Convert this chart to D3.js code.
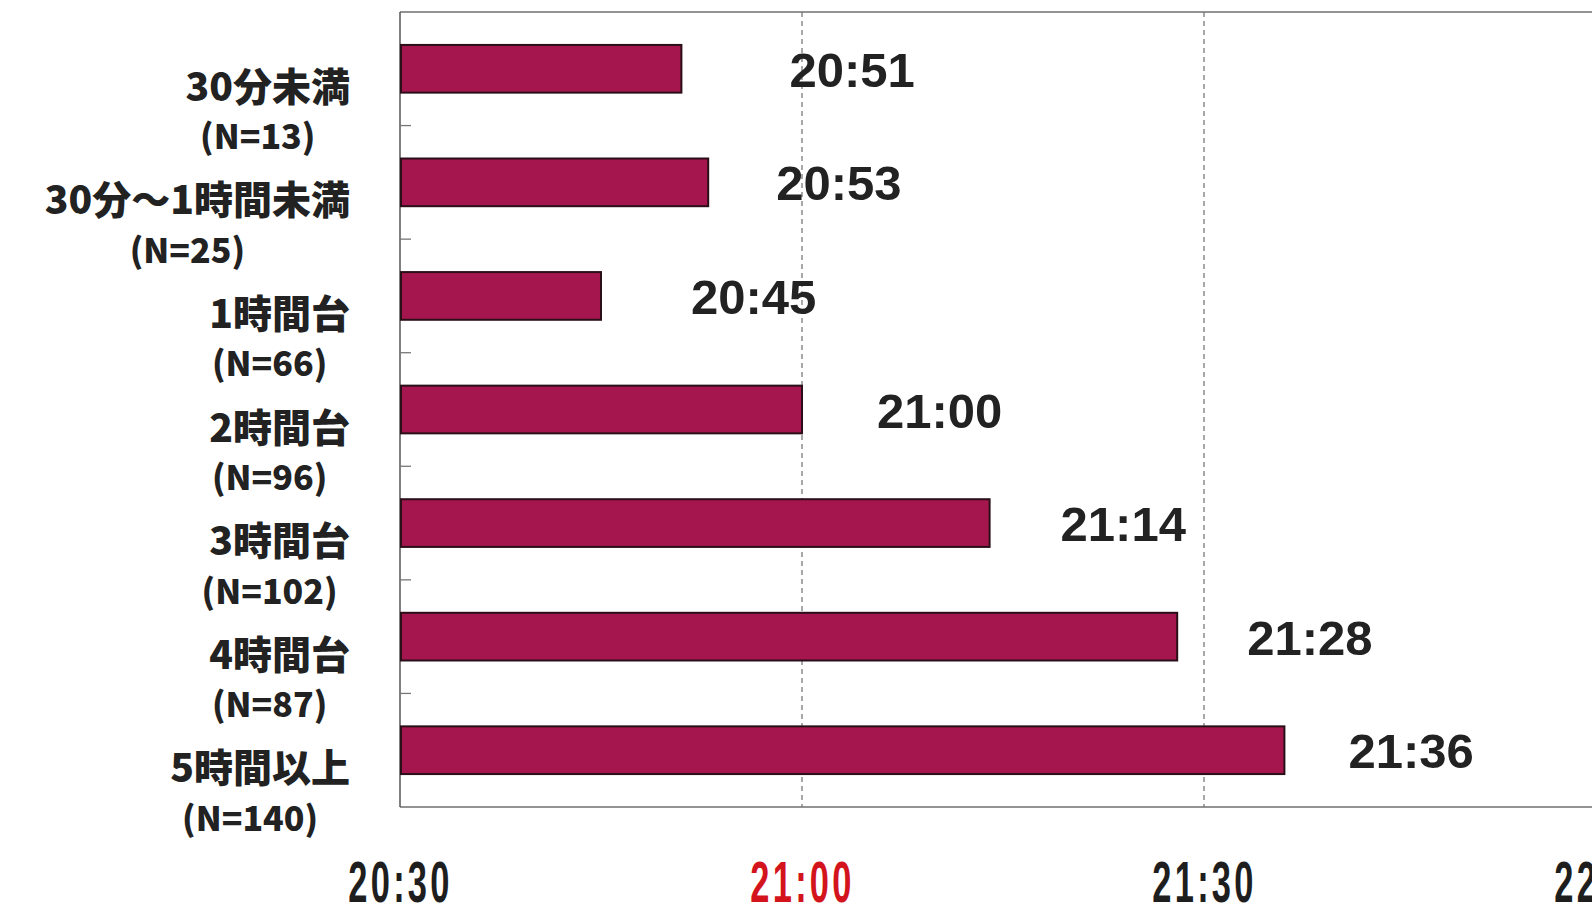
<!DOCTYPE html>
<html>
<head>
<meta charset="utf-8">
<script src="https://cdn.jsdelivr.net/npm/d3@7"></script>
<style>
  html, body { margin: 0; padding: 0; background: #ffffff; overflow: hidden; }
  svg { display: block; }
</style>
</head>
<body>
<svg id="chart" width="1592" height="906"></svg>
<script>
// Viewing-time groups and their sample sizes
const categories = ["30分未満", "30分～1時間未満", "1時間台", "2時間台", "3時間台", "4時間台", "5時間以上"];
const sampleSizes = ["(N=13)", "(N=25)", "(N=66)", "(N=96)", "(N=102)", "(N=87)", "(N=140)"];
// Average bedtime per group
const bedtimes = ["20:51", "20:53", "20:45", "21:00", "21:14", "21:28", "21:36"];
// Time axis
const axisStart = "20:30";
const tickLabels = ["20:30", "21:00", "21:30", "22:00"];
const highlightTick = "21:00";
// Extra gap between a bar's end and its value label
const labelGap = [108, 68, 90, 75, 71, 70, 64];

const toMinutes = s => { const [h, m] = s.split(":").map(Number); return h * 60 + m; };
const base = toMinutes(axisStart);
const rows = categories.map((c, i) => ({
  cat: c, n: sampleSizes[i], label: bedtimes[i], value: toMinutes(bedtimes[i]) - base, gap: labelGap[i]
}));
const tickValues = tickLabels.map(t => toMinutes(t) - base);

const svg = d3.select("#chart");
const W = 1592;
const plot = { left: 400, top: 12, bottom: 807 };

const x = d3.scaleLinear().domain([0, 90]).range([plot.left, 1606]);
const y = d3.scaleBand().domain(categories).range([plot.top, plot.bottom])
  .paddingInner(0.58).paddingOuter(0.29);

// dashed vertical gridlines
svg.append("g").selectAll("line")
  .data(tickValues.slice(1))
  .join("line")
  .attr("x1", d => x(d)).attr("x2", d => x(d))
  .attr("y1", plot.top).attr("y2", plot.bottom)
  .attr("stroke", "#7a7a7a").attr("stroke-width", 1.3)
  .attr("stroke-dasharray", "5,4");

// frame: top border, left axis, bottom axis
svg.append("line").attr("x1", plot.left).attr("x2", W).attr("y1", plot.top).attr("y2", plot.top)
  .attr("stroke", "#6f6f6f").attr("stroke-width", 1.5);
svg.append("line").attr("x1", plot.left).attr("x2", W).attr("y1", plot.bottom).attr("y2", plot.bottom)
  .attr("stroke", "#6f6f6f").attr("stroke-width", 1.5);
svg.append("line").attr("x1", plot.left).attr("x2", plot.left).attr("y1", plot.top).attr("y2", plot.bottom)
  .attr("stroke", "#555").attr("stroke-width", 1.5);

// inward tick marks between categories
svg.append("g").selectAll("line")
  .data(categories.slice(0, -1))
  .join("line")
  .attr("x1", plot.left).attr("x2", plot.left + 11)
  .attr("y1", d => y(d) + y.bandwidth() / 2 + y.step() / 2)
  .attr("y2", d => y(d) + y.bandwidth() / 2 + y.step() / 2)
  .attr("stroke", "#777").attr("stroke-width", 1.3);

// bars
svg.append("g").selectAll("rect")
  .data(rows)
  .join("rect")
  .attr("x", x(0) + 1)
  .attr("y", d => y(d.cat))
  .attr("width", d => x(d.value) - x(0) - 1)
  .attr("height", y.bandwidth())
  .attr("fill", "#a5164f")
  .attr("stroke", "#2a0f18")
  .attr("stroke-width", 2);

// value labels
svg.append("g").selectAll("text")
  .data(rows)
  .join("text")
  .attr("x", d => x(d.value) + d.gap)
  .attr("y", d => y(d.cat) + y.bandwidth() / 2 + 1)
  .attr("dominant-baseline", "central")
  .attr("font-family", "'Liberation Sans', Arial, sans-serif")
  .attr("font-weight", "bold")
  .attr("font-size", 49)
  .attr("fill", "#222")
  .text(d => d.label);

// category labels: two centred lines in a right-aligned block
const catG = svg.append("g");
const labelRight = 350;
rows.forEach(d => {
  const cy = y(d.cat) + y.bandwidth() / 2;
  const t1 = catG.append("text")
    .attr("y", cy + 15).attr("dominant-baseline", "central")
    .attr("text-anchor", "middle")
    .attr("font-family", "'Noto Sans CJK JP', sans-serif")
    .attr("font-weight", 900).attr("font-size", 39).attr("fill", "#222")
    .text(d.cat);
  const t2 = catG.append("text")
    .attr("y", cy + 66).attr("dominant-baseline", "central")
    .attr("text-anchor", "middle")
    .attr("font-family", "'Noto Sans CJK JP', sans-serif")
    .attr("font-weight", 900).attr("font-size", 34).attr("fill", "#222")
    .text(d.n);
  const w = Math.max(t1.node().getComputedTextLength(), t2.node().getComputedTextLength());
  const cx = labelRight - w / 2;
  t1.attr("x", cx);
  t2.attr("x", cx - 10);
});

// time axis labels (condensed via horizontal squeeze, slightly stretched vertically)
const xAxis = d3.axisBottom(x)
  .tickValues(tickValues)
  .tickFormat((d, i) => tickLabels[i])
  .tickSize(0).tickPadding(0);
const ax = svg.append("g").attr("transform", `translate(0,${plot.bottom})`).call(xAxis);
ax.select(".domain").remove();
ax.selectAll("text")
  .attr("y", 69)
  .attr("dy", null)
  .attr("dominant-baseline", "central")
  .attr("font-family", "'Liberation Sans', Arial, sans-serif")
  .attr("font-weight", "bold")
  .attr("font-size", 53)
  .attr("letter-spacing", 5)
  .attr("transform", "scale(0.65,1.09)")
  .attr("fill", (d, i) => tickLabels[i] === highlightTick ? "#d3141d" : "#1e1e1e");
</script>
</body>
</html>
